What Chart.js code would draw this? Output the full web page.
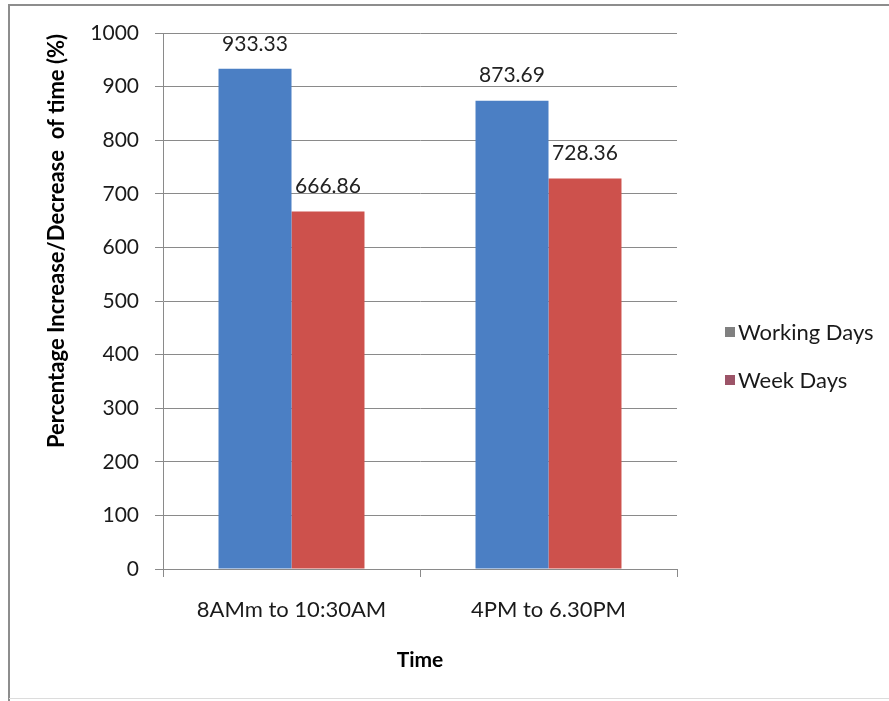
<!DOCTYPE html>
<html>
<head>
<meta charset="utf-8">
<script src="https://cdn.jsdelivr.net/npm/chart.js@4/dist/chart.umd.min.js"></script>
<style>
  html, body { margin: 0; padding: 0; background: #ffffff; }
  #wrap { width: 889px; height: 701px; position: relative; }
</style>
</head>
<body>
<div id="wrap"><canvas id="c" width="889" height="701"></canvas></div>
<script>
// Time windows compared
const categories = ['8AMm to 10:30AM', '4PM to 6.30PM'];
// Percentage change of travel time for each window
const workingDays = [933.33, 873.69];
const weekDays = [666.86, 728.36];
// Value axis ticks
const yTicks = [0, 100, 200, 300, 400, 500, 600, 700, 800, 900, 1000];

const seriesNames = ['Working Days', 'Week Days'];
const barColors = ['#4b7fc4', '#cd514c'];
const legendSwatches = ['#808080', '#9c5468'];

const FONT = 'Lato, "Open Sans", sans-serif';
const AXIS_GRAY = '#8a8a8a';

// Frame, axis titles, legend and value labels
const decorations = {
  id: 'decorations',
  beforeDraw(chart) {
    const c = chart.ctx;
    c.save();
    c.fillStyle = '#ffffff';
    c.fillRect(0, 0, chart.width, chart.height);
    c.strokeStyle = '#8d8d8d';
    c.lineWidth = 2;
    c.beginPath();
    c.moveTo(9, chart.height);
    c.lineTo(9, 5);
    c.lineTo(chart.width, 5);
    c.stroke();
    c.strokeStyle = '#dcdcdc';
    c.lineWidth = 1;
    c.beginPath();
    c.moveTo(9, 698.5);
    c.lineTo(chart.width, 698.5);
    c.stroke();
    c.restore();
  },
  afterDraw(chart) {
    const c = chart.ctx;
    const area = chart.chartArea;
    c.save();
    // y axis title
    c.translate(57, 241);
    c.rotate(-Math.PI / 2);
    c.font = 'bold 22px ' + FONT;
    c.fillStyle = '#000000';
    c.textAlign = 'center';
    c.textBaseline = 'middle';
    c.fillText('Percentage Increase/Decrease  of time (%)', 0, 0);
    c.restore();

    c.save();
    // x axis title
    c.font = 'bold 21px ' + FONT;
    c.fillStyle = '#000000';
    c.textAlign = 'center';
    c.textBaseline = 'middle';
    c.fillText('Time', (area.left + area.right) / 2, 660);

    // legend
    c.font = '22px ' + FONT;
    c.textAlign = 'left';
    seriesNames.forEach((name, i) => {
      const cy = 332 + i * 48;
      c.fillStyle = legendSwatches[i];
      c.fillRect(725, cy - 5, 10, 10);
      c.fillStyle = '#1a1a1a';
      c.fillText(name, 738, cy + 1);
    });

    // value labels above bars
    c.font = '21px ' + FONT;
    c.fillStyle = '#222222';
    c.textAlign = 'center';
    chart.data.datasets.forEach((ds, di) => {
      const meta = chart.getDatasetMeta(di);
      meta.data.forEach((bar, i) => {
        c.fillText(ds.data[i].toFixed(2), bar.x, bar.y - 25);
      });
    });
    c.restore();
  }
};

new Chart(document.getElementById('c'), {
  type: 'bar',
  data: {
    labels: categories,
    datasets: [
      { label: seriesNames[0], data: workingDays, backgroundColor: barColors[0], borderWidth: 0 },
      { label: seriesNames[1], data: weekDays, backgroundColor: barColors[1], borderWidth: 0 }
    ]
  },
  options: {
    responsive: false,
    animation: false,
    events: [],
    layout: { padding: { left: 0, top: 33, right: 212, bottom: 0 } },
    plugins: { legend: { display: false }, tooltip: { enabled: false } },
    datasets: { bar: { categoryPercentage: 0.568, barPercentage: 1.0 } },
    scales: {
      x: {
        type: 'category',
        offset: true,
        grid: { display: true, drawOnChartArea: false, drawTicks: true, tickLength: 8, color: AXIS_GRAY, offset: true },
        border: { display: true, color: AXIS_GRAY, width: 1 },
        ticks: { color: '#1a1a1a', font: { family: FONT, size: 22 }, padding: 20, maxRotation: 0, autoSkip: false },
        afterFit(scale) { scale.height = 701 - 569; }
      },
      y: {
        min: 0,
        max: 1000,
        afterBuildTicks(scale) { scale.ticks = yTicks.map(v => ({ value: v })); },
        grid: { color: AXIS_GRAY, lineWidth: 1, tickLength: 8, drawTicks: true },
        border: { display: true, color: AXIS_GRAY, width: 1 },
        ticks: {
          color: '#1a1a1a',
          font: { family: FONT, size: 21 },
          padding: 16,
          callback: (v) => String(v)
        },
        afterFit(scale) { scale.width = 163; }
      }
    }
  },
  plugins: [decorations]
});
</script>
</body>
</html>
